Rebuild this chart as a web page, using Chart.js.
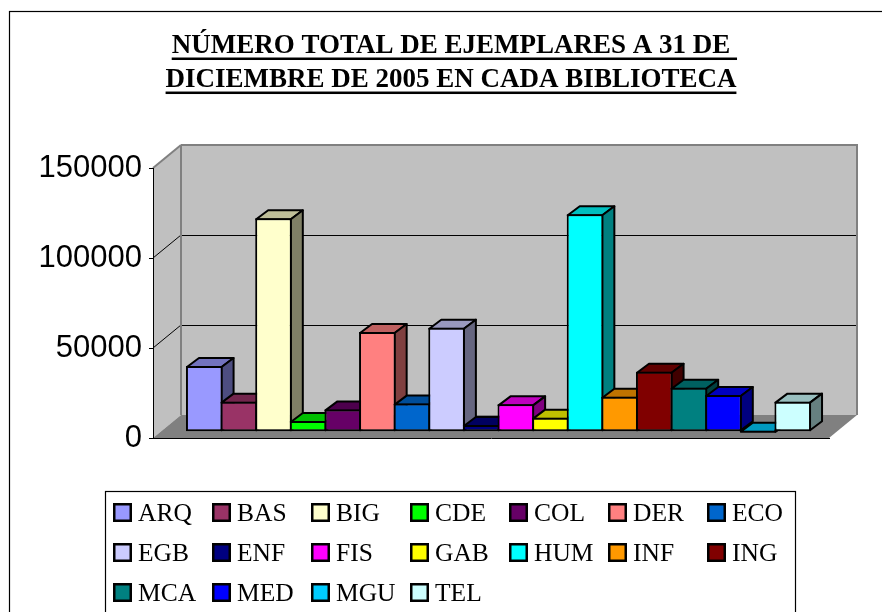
<!DOCTYPE html>
<html><head><meta charset="utf-8">
<style>html,body{margin:0;padding:0;background:#fff}canvas{display:block}</style>
<script src="https://cdn.jsdelivr.net/npm/chart.js@4/dist/chart.umd.min.js"></script>
</head><body><canvas id="c" width="882" height="612"></canvas>
<script>
const titleLines = ['NÚMERO TOTAL DE EJEMPLARES A 31 DE', 'DICIEMBRE DE 2005 EN CADA BIBLIOTECA'];
const libraries = ['ARQ','BAS','BIG','CDE','COL','DER','ECO','EGB','ENF','FIS','GAB','HUM','INF','ING','MCA','MED','MGU','TEL'];
const copies = [36500,16700,118600,5950,12400,55400,15600,57800,3700,15200,7800,120800,19400,33300,24400,20400,500,16700];
const colours = ['#9999FF','#993366','#FFFFCC','#00FF00','#660066','#FF8080','#0066CC','#CCCCFF','#000080','#FF00FF','#FFFF00','#00FFFF','#FF9900','#800000','#008080','#0000FF','#00CCFF','#CCFFFF'];
const yTicks = [0,50000,100000,150000];

const WALL = {dx:28, dy:-23};
const BAR_SHIFT = {dx:7.5, dy:-6.3};
const BAR_DEPTH = {dx:12, dy:-9};
const GREY = '#808080', WALLC = '#C0C0C0';
const TITLE_FONT = 'bold 27px "Liberation Serif"';

function shade(hex, k){
  const n = parseInt(hex.slice(1),16);
  return `rgb(${Math.round((n>>16&255)*k)},${Math.round((n>>8&255)*k)},${Math.round((n&255)*k)})`;
}
function poly(ctx, pts, fill, stroke, lw){
  ctx.beginPath();
  pts.forEach((p,i)=> i ? ctx.lineTo(p[0],p[1]) : ctx.moveTo(p[0],p[1]));
  ctx.closePath();
  if(fill){ctx.fillStyle=fill;ctx.fill();}
  if(stroke){ctx.strokeStyle=stroke;ctx.lineWidth=lw;ctx.lineJoin='round';ctx.stroke();}
}
function line(ctx,x1,y1,x2,y2,c,w){
  ctx.beginPath();ctx.moveTo(x1,y1);ctx.lineTo(x2,y2);ctx.strokeStyle=c;ctx.lineWidth=w;ctx.stroke();
}

const frame3d = {
  id:'frame3d',
  afterLayout(chart){
    // centre the title on the outer frame rather than on the plot
    const t = chart.titleBlock;
    const shift = 451 - (t.left+t.right)/2;
    t.left += shift; t.right += shift;
  },
  beforeDraw(chart){
    const ctx = chart.ctx, {x,y} = chart.scales;
    ctx.save();
    ctx.fillStyle='#fff';ctx.fillRect(0,0,chart.width,chart.height);
    // outer frame
    ctx.strokeStyle='#000';ctx.lineWidth=1.2;ctx.strokeRect(9.5,11.5,1000,1000);
    const L=x.left,R=x.right,T=y.getPixelForValue(150000),B=y.getPixelForValue(0);
    const d=WALL;
    // back wall, side wall, floor
    poly(ctx,[[L+d.dx,T+d.dy],[R+d.dx,T+d.dy],[R+d.dx,B+d.dy],[L+d.dx,B+d.dy]],WALLC);
    poly(ctx,[[L,T],[L+d.dx,T+d.dy],[L+d.dx,B+d.dy],[L,B]],WALLC);
    poly(ctx,[[L,B],[L+d.dx,B+d.dy],[R+d.dx,B+d.dy],[R,B]],GREY);
    // gridlines
    yTicks.slice(1,-1).forEach(v=>{
      const p=y.getPixelForValue(v);
      line(ctx,L,p,L+d.dx,p+d.dy,'#000',1);
      line(ctx,L+d.dx,Math.round(p+d.dy)+.5,R+d.dx,Math.round(p+d.dy)+.5,'#000',1);
    });
    // wall edges
    ctx.lineJoin='miter';
    line(ctx,L,T,L+d.dx,T+d.dy,GREY,2);
    line(ctx,L+d.dx,T+d.dy,R+d.dx+1,T+d.dy,GREY,2);
    line(ctx,R+d.dx,T+d.dy,R+d.dx,B+d.dy,GREY,2);
    line(ctx,L+d.dx,T+d.dy,L+d.dx,B+d.dy,GREY,2);
    ctx.restore();
  },
  beforeDatasetsDraw(chart){
    const ctx=chart.ctx;
    ctx.save();
    ctx.translate(BAR_SHIFT.dx,BAR_SHIFT.dy);
    chart.data.datasets.forEach((ds,i)=>{
      const el=chart.getDatasetMeta(i).data[0];
      const {x,y,base,width}=el.getProps(['x','y','base','width'],true);
      const l=x-width/2+1,r=x+width/2-1,t=y+1,b=base-1;
      const D=BAR_DEPTH;
      poly(ctx,[[l,t],[l+D.dx,t+D.dy],[r+D.dx,t+D.dy],[r,t]],shade(ds.backgroundColor,.75),'#000',2);
      poly(ctx,[[r,t],[r+D.dx,t+D.dy],[r+D.dx,b+D.dy],[r,b]],shade(ds.backgroundColor,.5),'#000',2);
      el.draw(ctx);
    });
    ctx.restore();
    return false;
  },
  afterDraw(chart){
    const ctx=chart.ctx;
    ctx.save();
    // title underline (the first line carries a trailing space in the source)
    const t=chart.titleBlock, cx=(t.left+t.right)/2;
    ctx.font=TITLE_FONT;
    const lh=t.options.font.lineHeight*t.options.font.size||34;
    titleLines.forEach((s,i)=>{
      const w=ctx.measureText(s).width, extra=i===0?ctx.measureText(' ').width:0;
      const base=t.top+t.options.padding.top+lh*i+lh/2+11.5;
      ctx.fillStyle='#000';
      ctx.fillRect(cx-w/2,base,w+extra,2.5);
    });
    // legend in a fixed grid
    ctx.strokeStyle='#000';ctx.lineWidth=1.2;
    ctx.fillStyle='#fff';
    ctx.fillRect(105.5,491.5,690,200);
    ctx.strokeRect(105.5,491.5,690,200);
    ctx.font='25.5px "Liberation Serif"';ctx.textBaseline='alphabetic';ctx.textAlign='left';
    chart.data.datasets.forEach((ds,i)=>{
      const c=i%7,r=Math.floor(i/7);
      const sx=113+99*c, sy=503+40*r;
      ctx.fillStyle='#000';ctx.fillRect(sx,sy,19,19);
      ctx.fillStyle=ds.backgroundColor;ctx.fillRect(sx+2.5,sy+2.5,14,14);
      ctx.fillStyle='#000';
      ctx.fillText(ds.label,sx+25,sy+18);
    });
    ctx.restore();
  }
};

new Chart(document.getElementById('c'),{
  type:'bar',
  plugins:[frame3d],
  data:{
    labels:[''],
    datasets:libraries.map((lib,i)=>({
      label:lib,
      data:[copies[i]],
      backgroundColor:colours[i],
      borderColor:'#000',
      borderWidth:2,
      borderSkipped:false,
      barPercentage:1.058,
      categoryPercentage:0.9217,
      clip:false
    }))
  },
  options:{
    responsive:false,
    animation:false,
    layout:{padding:{left:0,right:53,top:0,bottom:0}},
    plugins:{
      legend:{display:false},
      tooltip:{enabled:false},
      title:{
        display:true,
        text:titleLines,
        color:'#000',
        align:'center',
        font:{family:'"Liberation Serif"',size:27,weight:'bold',lineHeight:1.26},
        padding:{top:29,bottom:71}
      }
    },
    scales:{
      x:{
        grid:{display:false},
        border:{color:'#000',width:1},
        ticks:{display:false},
        afterFit(s){s.height=174;}
      },
      y:{
        min:0,max:150000,
        afterBuildTicks(s){s.ticks=yTicks.map(v=>({value:v}));},
        afterFit(s){s.width=153;},
        grid:{drawOnChartArea:false,drawTicks:true,tickLength:4,color:'#000'},
        border:{color:'#000',width:1},
        ticks:{color:'#000',padding:7,font:{family:'"Liberation Sans"',size:31},callback:v=>String(v)}
      }
    }
  }
});
</script></body></html>
